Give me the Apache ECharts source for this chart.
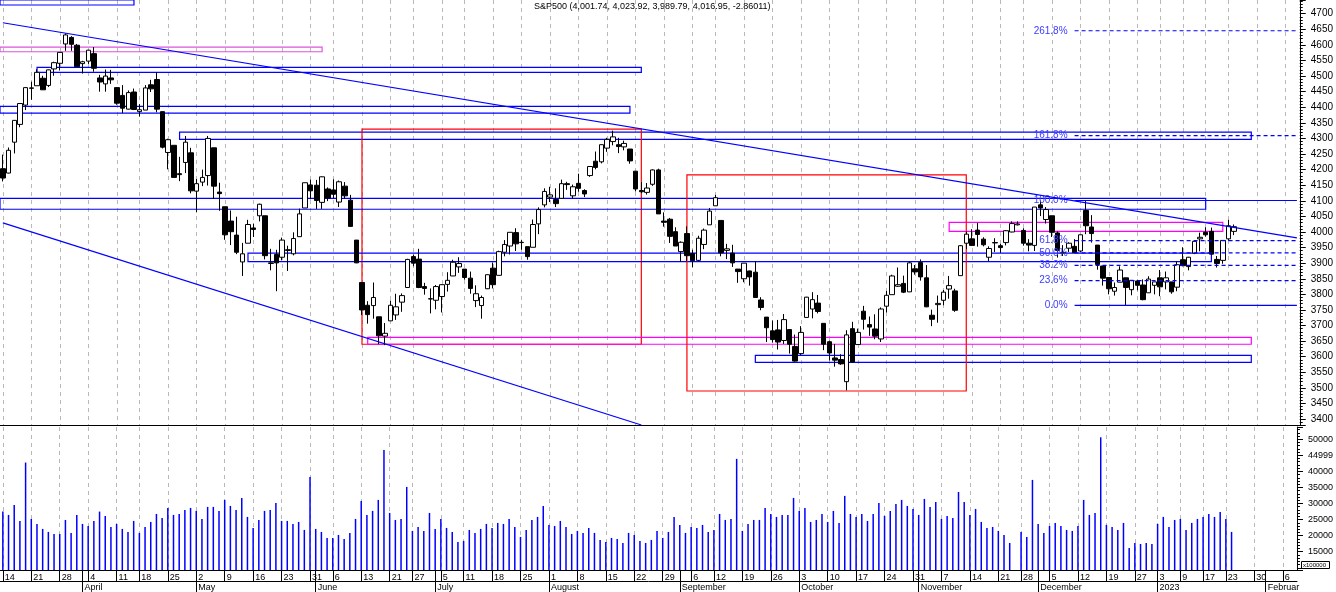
<!doctype html>
<html>
<head>
<meta charset="utf-8">
<title>S&amp;P500</title>
<style>
html, body { margin: 0; padding: 0; background: #fff; }
#main { width: 1336px; height: 592px; }
</style>
</head>
<body>
<div id="main"></div>
<script src="https://cdn.jsdelivr.net/npm/echarts@6.0.0/dist/echarts.min.js"></script>
<script>
var FONT = '"Liberation Sans", Arial, sans-serif';

// trading days shown (Jan 13 is not in the source data)
var tradingDays = [
    ['2022-03', [14, 15, 16, 17, 18, 21, 22, 23, 24, 25, 28, 29, 30, 31]],
    ['2022-04', [1, 4, 5, 6, 7, 8, 11, 12, 13, 14, 18, 19, 20, 21, 22, 25, 26, 27, 28, 29]],
    ['2022-05', [2, 3, 4, 5, 6, 9, 10, 11, 12, 13, 16, 17, 18, 19, 20, 23, 24, 25, 26, 27, 31]],
    ['2022-06', [1, 2, 3, 6, 7, 8, 9, 10, 13, 14, 15, 16, 17, 21, 22, 23, 24, 27, 28, 29, 30]],
    ['2022-07', [1, 5, 6, 7, 8, 11, 12, 13, 14, 15, 18, 19, 20, 21, 22, 25, 26, 27, 28, 29]],
    ['2022-08', [1, 2, 3, 4, 5, 8, 9, 10, 11, 12, 15, 16, 17, 18, 19, 22, 23, 24, 25, 26, 29, 30, 31]],
    ['2022-09', [1, 2, 6, 7, 8, 9, 12, 13, 14, 15, 16, 19, 20, 21, 22, 23, 26, 27, 28, 29, 30]],
    ['2022-10', [3, 4, 5, 6, 7, 10, 11, 12, 13, 14, 17, 18, 19, 20, 21, 24, 25, 26, 27, 28, 31]],
    ['2022-11', [1, 2, 3, 4, 7, 8, 9, 10, 11, 14, 15, 16, 17, 18, 21, 22, 23, 25, 28, 29, 30]],
    ['2022-12', [1, 2, 5, 6, 7, 8, 9, 12, 13, 14, 15, 16, 19, 20, 21, 22, 23, 27, 28, 29, 30]],
    ['2023-01', [3, 4, 5, 6, 9, 10, 11, 12, 17, 18, 19, 20, 23, 24]]
];
// empty space to the right of the last bar
var futureDays = [
    ['2023-01', [25, 26, 27, 30, 31]],
    ['2023-02', [1, 2, 3, 6, 7, 8]]
];

var opens = [
    4203, 4189, 4288, 4345, 4407, 4462, 4469, 4493, 4470, 4523, 4541, 4603, 4624, 4599,
    4540, 4548, 4572, 4494, 4475, 4494, 4463, 4438, 4394, 4449, 4386, 4391, 4472, 4489, 4386, 4255, 4278, 4187, 4223, 4254,
    4131, 4160, 4181, 4270, 4128, 4081, 4035, 3990, 3904, 3964, 4013, 4052, 4052, 3899, 3928, 3919, 3943, 3930, 3985, 4077, 4151,
    4150, 4095, 4138, 4135, 4096, 4147, 4102, 3974, 3838, 3765, 3764, 3728, 3666, 3715, 3734, 3775, 3822, 3921, 3913, 3825, 3786,
    3781, 3793, 3832, 3859, 3888, 3881, 3852, 3780, 3764, 3818, 3884, 3861, 3935, 3955, 3998, 3966, 3953, 3951, 4026, 4087,
    4112, 4104, 4108, 4155, 4116, 4156, 4133, 4181, 4227, 4225, 4269, 4290, 4280, 4273, 4266, 4195, 4133, 4127, 4153, 4199, 4035, 4041, 4001,
    3937, 3995, 3931, 3909, 3960, 4023, 4084, 4037, 3941, 3932, 3881, 3850, 3875, 3871, 3782, 3727, 3683, 3686, 3652, 3687, 3633,
    3610, 3726, 3753, 3772, 3707, 3648, 3596, 3591, 3520, 3690, 3639, 3746, 3703, 3689, 3657, 3762, 3799, 3826, 3835, 3808, 3882,
    3902, 3853, 3733, 3767, 3781, 3817, 3811, 3860, 3964, 3978, 4006, 3977, 3919, 3966, 3956, 3966, 4000, 4023, 4005, 3964, 3957,
    4087, 4040, 4052, 3997, 3933, 3948, 3954, 3939, 4069, 4016, 3958, 3891, 3854, 3810, 3839, 3853, 3815, 3843, 3830, 3805, 3829,
    3853, 3840, 3840, 3823, 3911, 3889, 3932, 3978, 3999, 4002, 3912, 3909, 3978, 4002
];
var highs = [
    4248, 4271, 4359, 4413, 4465, 4482, 4522, 4501, 4521, 4546, 4576, 4637, 4628, 4603,
    4549, 4584, 4593, 4504, 4521, 4520, 4464, 4471, 4454, 4460, 4410, 4471, 4488, 4513, 4386, 4299, 4278, 4241, 4308, 4270,
    4170, 4200, 4308, 4270, 4158, 4081, 4069, 4049, 3965, 4039, 4027, 4091, 4052, 3946, 3943, 3982, 3956, 3999, 4075, 4158, 4168,
    4167, 4178, 4143, 4169, 4165, 4160, 4119, 3974, 3838, 3778, 3838, 3728, 3708, 3780, 3802, 3803, 3914, 3928, 3946, 3837, 3819,
    3830, 3832, 3871, 3911, 3919, 3881, 3873, 3829, 3796, 3864, 3902, 3940, 3974, 3999, 4012, 3975, 3953, 4040, 4079, 4140,
    4145, 4140, 4168, 4161, 4152, 4187, 4137, 4211, 4258, 4280, 4302, 4325, 4302, 4293, 4266, 4195, 4160, 4157, 4201, 4203, 4063, 4045, 4015,
    3970, 4018, 3943, 3988, 4011, 4077, 4119, 4037, 3962, 3959, 3881, 3900, 3876, 3907, 3791, 3727, 3716, 3718, 3737, 3687, 3671,
    3698, 3792, 3807, 3798, 3707, 3652, 3641, 3608, 3685, 3712, 3690, 3763, 3729, 3736, 3758, 3811, 3863, 3886, 3860, 3905, 3894,
    3912, 3894, 3751, 3796, 3814, 3859, 3818, 3958, 4001, 4009, 4029, 3983, 3954, 3980, 3962, 4006, 4034, 4034, 4012, 3977, 4080,
    4101, 4080, 4052, 4002, 3958, 3967, 3977, 3991, 4101, 4054, 3958, 3891, 3855, 3838, 3890, 3853, 3846, 3847, 3848, 3858, 3840,
    3878, 3873, 3840, 3906, 3951, 3920, 3970, 3998, 4015, 4014, 3923, 3973, 4039, 4024
];
var lows = [
    4162, 4188, 4252, 4336, 4391, 4424, 4469, 4456, 4465, 4501, 4518, 4581, 4581, 4530,
    4508, 4539, 4514, 4450, 4450, 4475, 4408, 4381, 4393, 4391, 4370, 4391, 4449, 4384, 4268, 4201, 4175, 4163, 4189, 4124,
    4063, 4147, 4149, 4106, 4068, 3975, 3958, 3929, 3859, 3964, 3984, 4034, 3912, 3877, 3810, 3909, 3875, 3925, 3985, 4077, 4105,
    4074, 4074, 4099, 4109, 4080, 4107, 4017, 3900, 3734, 3706, 3722, 3640, 3637, 3715, 3718, 3744, 3822, 3890, 3820, 3799, 3739,
    3752, 3742, 3809, 3859, 3869, 3847, 3802, 3759, 3722, 3817, 3819, 3861, 3922, 3928, 3939, 3943, 3911, 3951, 3993, 4079,
    4096, 4080, 4108, 4135, 4107, 4129, 4112, 4177, 4201, 4220, 4257, 4278, 4253, 4262, 4219, 4130, 4124, 4120, 4148, 4058, 4017, 3965, 3955,
    3904, 3906, 3887, 3906, 3945, 4023, 4084, 3922, 3913, 3888, 3837, 3839, 3828, 3789, 3749, 3647, 3645, 3623, 3641, 3610, 3584,
    3605, 3726, 3723, 3739, 3621, 3588, 3568, 3574, 3492, 3580, 3639, 3687, 3667, 3656, 3647, 3742, 3799, 3824, 3804, 3808, 3863,
    3844, 3759, 3698, 3709, 3765, 3786, 3744, 3860, 3945, 3956, 3953, 3954, 3907, 3936, 3933, 3957, 3999, 4021, 3956, 3938, 3939,
    4051, 4027, 3984, 3918, 3923, 3936, 3933, 3935, 3993, 3966, 3879, 3828, 3800, 3796, 3839, 3764, 3797, 3813, 3781, 3805, 3800,
    3794, 3816, 3802, 3810, 3890, 3877, 3929, 3938, 3985, 3927, 3886, 3898, 3972, 3990
];
var closes = [
    4173, 4262, 4358, 4412, 4463, 4461, 4512, 4456, 4520, 4543, 4576, 4632, 4602, 4530,
    4546, 4583, 4525, 4481, 4500, 4488, 4413, 4397, 4447, 4393, 4392, 4462, 4459, 4394, 4272, 4296, 4175, 4184, 4288, 4132,
    4155, 4175, 4300, 4147, 4123, 3991, 4001, 3935, 3930, 4024, 4008, 4089, 3924, 3901, 3901, 3974, 3941, 3979, 4058, 4158, 4132,
    4101, 4177, 4109, 4121, 4161, 4116, 4018, 3901, 3750, 3735, 3790, 3667, 3675, 3765, 3760, 3796, 3912, 3900, 3822, 3819, 3785,
    3825, 3831, 3845, 3903, 3899, 3854, 3819, 3802, 3790, 3863, 3831, 3937, 3960, 3999, 3962, 3967, 3921, 4024, 4072, 4130,
    4119, 4091, 4155, 4152, 4145, 4140, 4122, 4210, 4207, 4280, 4297, 4305, 4274, 4284, 4228, 4138, 4129, 4141, 4199, 4058, 4031, 3986, 3955,
    3967, 3924, 3908, 3980, 4006, 4067, 4110, 3933, 3946, 3901, 3873, 3900, 3856, 3790, 3758, 3693, 3655, 3647, 3719, 3640, 3586,
    3678, 3791, 3783, 3745, 3640, 3612, 3589, 3577, 3670, 3583, 3678, 3720, 3695, 3666, 3753, 3797, 3859, 3831, 3807, 3901, 3872,
    3856, 3760, 3720, 3771, 3807, 3828, 3749, 3956, 3993, 3957, 3992, 3959, 3947, 3965, 3950, 4004, 4027, 4026, 3964, 3958, 4080,
    4077, 4072, 3999, 3941, 3934, 3964, 3934, 3991, 4020, 3995, 3896, 3852, 3818, 3822, 3878, 3822, 3845, 3829, 3783, 3849, 3840,
    3824, 3853, 3808, 3895, 3892, 3919, 3970, 3983, 3991, 3929, 3899, 3973, 4020, 4017
];
// volume in units of 100000 shares (Nov 25 has no bar)
var volumes = [
    27480, 26440, 29550, 24570, 42740, 25190, 23640, 22080, 21150, 20520, 20520, 24880, 20840, 26440,
    23640, 23010, 24570, 27480, 26130, 22700, 23640, 22080, 21150, 24570, 20840, 22700, 24260, 26750, 25500, 28620, 26440, 26750, 28000, 28620,
    27690, 25190, 28930, 28930, 27690, 31110, 29240, 28000, 31730, 25820, 22390, 24880, 27690, 28000, 30180, 24570, 24570, 23640, 24260, 21770, 38270,
    22080, 21150, 19280, 19280, 20210, 18970, 20840, 25190, 30800, 26440, 27690, 31110, 46680, 27060, 24880, 25190, 35160, 21460, 22700, 21460, 27060,
    22080, 25190, 22390, 21150, 18030, 18340, 21770, 20840, 22080, 23640, 22390, 23950, 23640, 25190, 22700, 19590, 21770, 24880, 25820, 29240,
    23330, 23010, 24570, 22700, 20520, 21460, 20840, 22390, 20840, 18660, 18030, 19280, 18970, 17720, 20840, 20210, 18340, 17720, 18660, 21460, 19280, 21150, 25820,
    23330, 20840, 22700, 22390, 23330, 21150, 21770, 26750, 24880, 25190, 43880, 21460, 23640, 24880, 24880, 28620, 26750, 25820, 26440, 26440, 31730,
    27690, 28620, 24260, 24880, 26750, 24260, 27690, 23950, 32360, 26750, 25820, 26750, 24570, 26750, 30180, 26130, 27690, 29860, 31110, 29240, 28310,
    26440, 31420, 28930, 30490, 25190, 26130, 25500, 33600, 30490, 26440, 28310, 24260, 22390, 22700, 21460, 20210, 17720, null, 21150, 19590, 37340,
    23640, 20840, 23010, 23950, 23010, 21770, 21460, 23010, 31110, 26440, 27060, 50600, 23330, 22700, 21770, 23950, 16160, 17720, 17410, 17720, 17410,
    23640, 25820, 22700, 24880, 25190, 21770, 23950, 25190, 25820, 26750, 25820, 27370, 25190, 21150
];

var titleText = 'S&P500 (4,001.74, 4,023.92, 3,989.79, 4,016.95, -2.86011)';
var monthLabels = {
    '2022-04': 'April', '2022-05': 'May', '2022-06': 'June', '2022-07': 'July',
    '2022-08': 'August', '2022-09': 'September', '2022-10': 'October', '2022-11': 'November',
    '2022-12': 'December', '2023-01': '2023', '2023-02': 'Februar'
};
var volumeTickLabels = {
    15000: '15000', 20000: '20000', 25000: '25000', 30000: '30000',
    35000: '35000', 40000: '40000', 45000: '44999', 50000: '50000'
};

// drawn boxes: [from date (null = left edge), to date, low, high, kind]
var zones = [
    [null, '2022-04-14', 4728, 4744, 'blue'],
    [null, '2022-06-02', 4578, 4593, 'pink'],
    ['2022-03-22', '2022-08-23', 4512, 4528, 'blue'],
    [null, '2022-08-19', 4381, 4403, 'blue'],
    ['2022-04-27', '2023-01-27', 4297, 4320, 'blue'],
    ['2022-06-13', '2022-08-23', 3640, 4330, 'red'],
    ['2022-06-14', '2023-01-27', 3640, 3662, 'magenta'],
    [null, '2023-01-17', 4073, 4108, 'blue'],
    ['2022-05-13', '2023-01-18', 3905, 3932, 'blue'],
    ['2022-09-21', '2023-01-27', 3582, 3604, 'blue'],
    ['2022-11-08', '2023-01-20', 4002, 4031, 'magenta'],
    ['2022-09-02', '2022-11-11', 3490, 4183, 'red']
];
// trend lines: [[date, price], [date, price]]
var trendLines = [
    [['2022-03-14', 4671], ['2023-02-08', 3981]],
    [['2022-03-14', 4029], ['2022-08-23', 3381]]
];
// fibonacci retracement between the Dec 22 low and Dec 13 high
var fibStart = '2022-12-09';
var fibEnd = '2023-02-08';
var fibLow = 3764.49;
var fibHigh = 4100.96;
var fibLevels = [0, 23.6, 38.2, 50, 61.8, 100, 161.8, 261.8];

var zoneColors = { blue: '#0000ff', pink: '#dd55dd', red: '#ff0000', magenta: '#ff00ff' };

var dates = [];
function addDays(list) {
    list.forEach(function (m) {
        m[1].forEach(function (d) {
            dates.push(m[0] + '-' + (d < 10 ? '0' + d : d));
        });
    });
}
addDays(tradingDays);
addDays(futureDays);

function dayNum(s) {
    return Date.UTC(+s.slice(0, 4), +s.slice(5, 7) - 1, +s.slice(8, 10)) / 86400000;
}
var weekStart = dates.map(function (d, i) {
    if (i === 0) return true;
    return Math.floor((dayNum(d) + 3) / 7) !== Math.floor((dayNum(dates[i - 1]) + 3) / 7);
});
var monthStart = dates.map(function (d, i) {
    return i > 0 && d.slice(0, 7) !== dates[i - 1].slice(0, 7);
});

var candles = opens.map(function (o, i) {
    return [o, closes[i], lows[i], highs[i]];
});

var areaData = zones.map(function (z) {
    var a = { yAxis: z[2], itemStyle: { color: 'rgba(0,0,0,0)', borderColor: zoneColors[z[4]], borderWidth: 1.2 } };
    if (z[0]) a.xAxis = z[0];
    var b = { yAxis: z[3] };
    if (z[1]) b.xAxis = z[1];
    return [a, b];
});

var lineData = trendLines.map(function (t) {
    return [
        { coord: t[0], lineStyle: { color: '#0000ff', width: 1.2, type: 'solid' }, label: { show: false } },
        { coord: t[1] }
    ];
});

// one small line series per fibonacci level
var fibSeries = fibLevels.map(function (lv) {
    var price = fibLow + (fibHigh - fibLow) * lv / 100;
    var solid = lv === 0 || lv === 100;
    return {
        type: 'line', xAxisIndex: 0, yAxisIndex: 0, silent: true,
        symbol: 'circle', symbolSize: 0, showSymbol: true,
        itemStyle: { color: '#0000ff' },
        lineStyle: { color: '#0000ff', width: 1.2, type: solid ? 'solid' : [4, 3] },
        data: [
            {
                value: [fibStart, price],
                label: {
                    show: true, position: 'left', distance: 7, formatter: lv.toFixed(1) + '%',
                    color: '#3b3bff', fontSize: 10, fontFamily: FONT
                }
            },
            { value: [fibEnd, price], label: { show: false } }
        ]
    };
});

var gridLineStyle = { color: '#b8b8b8', width: 1, type: [4, 4] };

var chart = echarts.init(document.getElementById('main'), null, { renderer: 'canvas' });

chart.setOption({
    animation: false,
    backgroundColor: '#ffffff',
    textStyle: { fontFamily: FONT },
    title: {
        text: titleText, left: 534, top: 2, padding: 0,
        textStyle: { fontSize: 9, fontWeight: 'normal', color: '#000', fontFamily: FONT }
    },
    grid: [
        { left: 0, width: 1300, top: 0, height: 425 },
        { left: 0, width: 1300, top: 427, height: 143 }
    ],
    xAxis: [
        {
            gridIndex: 0, type: 'category', data: dates, boundaryGap: true,
            axisLine: { show: false }, axisTick: { show: false }, axisLabel: { show: false },
            splitLine: {
                show: true, alignWithLabel: true,
                interval: function (i) { return weekStart[i]; },
                lineStyle: gridLineStyle
            }
        },
        {
            gridIndex: 1, type: 'category', data: dates, boundaryGap: true, position: 'bottom',
            axisLine: { show: true, lineStyle: { color: '#000', width: 1 } },
            axisTick: {
                show: true, alignWithLabel: true, length: 11,
                interval: function (i) { return weekStart[i] || monthStart[i]; },
                lineStyle: { color: '#000' }
            },
            axisLabel: {
                interval: function (i) { return weekStart[i]; },
                formatter: function (v) { return String(+v.slice(8)); },
                align: 'left', margin: 3, padding: [0, 0, 0, 2],
                fontSize: 9, color: '#000', fontFamily: FONT
            },
            splitLine: {
                show: true, alignWithLabel: true,
                interval: function (i) { return weekStart[i]; },
                lineStyle: gridLineStyle
            }
        },
        {
            gridIndex: 1, type: 'category', data: dates, boundaryGap: true, position: 'bottom', offset: 11,
            axisLine: { show: true, lineStyle: { color: '#000', width: 1 } },
            axisTick: {
                show: true, alignWithLabel: true, length: 11,
                interval: function (i) { return monthStart[i]; },
                lineStyle: { color: '#000' }
            },
            axisLabel: {
                interval: function (i) { return monthStart[i]; },
                formatter: function (v) { return monthLabels[v.slice(0, 7)] || ''; },
                align: 'left', margin: 2, padding: [0, 0, 0, 2],
                fontSize: 9, color: '#000', fontFamily: FONT
            },
            splitLine: { show: false }
        }
    ],
    yAxis: [
        {
            gridIndex: 0, type: 'value', position: 'right', min: 3381, max: 4744, splitNumber: 27,
            axisLine: { show: true, lineStyle: { color: '#000' } },
            axisTick: { show: true, length: 6, lineStyle: { color: '#000' } },
            minorTick: { show: true, splitNumber: 5, length: 3, lineStyle: { color: '#000' } },
            splitLine: { show: false },
            axisLabel: {
                margin: 11, fontSize: 10, color: '#000', fontFamily: FONT,
                showMinLabel: false, showMaxLabel: false,
                formatter: function (v) { return v % 50 === 0 ? String(v) : ''; }
            }
        },
        {
            gridIndex: 1, type: 'value', position: 'right', min: 9300, max: 53800, splitNumber: 9,
            axisLine: { show: true, lineStyle: { color: '#000' } },
            axisTick: { show: true, length: 6, lineStyle: { color: '#000' } },
            minorTick: { show: true, splitNumber: 5, length: 3, lineStyle: { color: '#000' } },
            splitLine: { show: false },
            axisLabel: {
                margin: 11, fontSize: 9, color: '#000', fontFamily: FONT,
                showMinLabel: false, showMaxLabel: false,
                formatter: function (v) { return volumeTickLabels[v] || ''; }
            }
        }
    ],
    series: [
        {
            name: 'S&P500', type: 'candlestick', xAxisIndex: 0, yAxisIndex: 0,
            data: candles, barWidth: 5,
            itemStyle: {
                color: '#ffffff', color0: '#000000',
                borderColor: '#000000', borderColor0: '#000000', borderWidth: 1
            },
            markArea: { silent: true, data: areaData },
            markLine: { silent: true, symbol: ['none', 'none'], data: lineData }
        },
        {
            name: 'Volume', type: 'bar', xAxisIndex: 1, yAxisIndex: 1,
            data: volumes, barWidth: 1.5,
            itemStyle: { color: '#0000ff' }
        }
    ].concat(fibSeries),
    graphic: [
        {
            type: 'line', silent: true,
            shape: { x1: 0, y1: 425.5, x2: 1300, y2: 425.5 },
            style: { stroke: '#000', lineWidth: 1 }
        },
        {
            type: 'rect', silent: true,
            shape: { x: 1301.5, y: 561.5, width: 28, height: 7 },
            style: { fill: '#fff', stroke: '#000', lineWidth: 1 }
        },
        {
            type: 'text', silent: true, x: 1303, y: 565,
            style: { text: 'x100000', font: '6px ' + FONT, fill: '#000', verticalAlign: 'middle' }
        }
    ]
});

window.onresize = chart.resize;
</script>
</body>
</html>
